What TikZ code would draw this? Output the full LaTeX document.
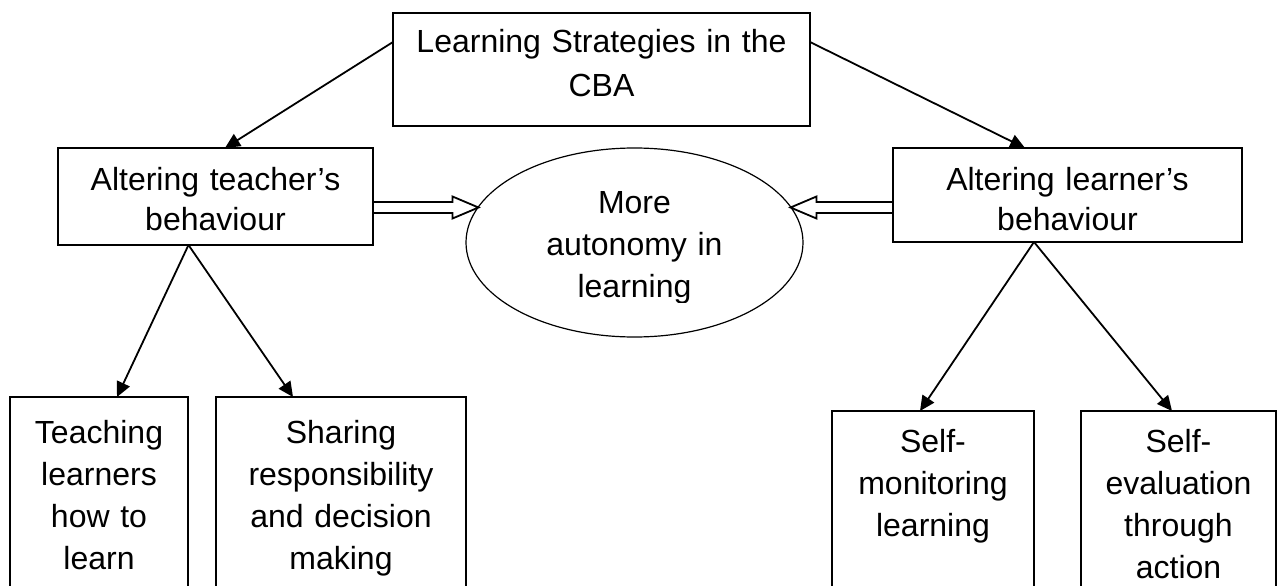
\documentclass[tikz,border=0pt]{standalone}
\usepackage{fontspec}
\setmainfont{Liberation Sans}
\usetikzlibrary{arrows.meta,calc,shapes.geometric}
\begin{document}
\begin{tikzpicture}[x=1pt,y=-1pt,
  txt/.style={font=\fontsize{32pt}{42pt}\selectfont},
  box/.style={txt, draw, line width=1.8pt, rectangle, inner sep=0pt, outer sep=0pt, anchor=north, align=center},
  oval/.style={draw, ellipse, line width=1.2pt, inner sep=0pt, outer sep=0pt},
  link/.style={line width=1.8pt, -{Triangle[length=15pt,width=14pt]}},
  hollow/.style={line width=1.8pt, line join=miter}
]
\useasboundingbox (0,0) rectangle (1283,586);
\clip (0,0) rectangle (1283,586);

% boxes
\node[box, text width=417pt, text height=40pt, text depth=73pt, font=\fontsize{32pt}{43.5pt}\selectfont] (top) at (601.5,13) {Learning Strategies in the\\CBA};
\node[box, text width=315pt, text height=42pt, text depth=55pt, font=\fontsize{32pt}{40pt}\selectfont] (lb) at (215.5,148) {Altering teacher’s\\behaviour};
\node[box, text width=349pt, text height=42pt, text depth=52pt, font=\fontsize{32pt}{40pt}\selectfont] (rb) at (1067.5,148) {Altering learner’s\\behaviour};
\node[box, text width=178pt, text height=46pt, text depth=164pt] (l1) at (99,397) {Teaching\\learners\\how to\\learn};
\node[box, text width=250pt, text height=46pt, text depth=164pt] (l2) at (341,397) {Sharing\\responsibility\\and decision\\making};
\node[box, text width=202pt, text height=41pt, text depth=150pt] (r1) at (933,411) {Self-\\monitoring\\learning};
\node[box, text width=195pt, text height=41pt, text depth=150pt] (r2) at (1178.5,411) {Self-\\evaluation\\through\\action};

% ellipse
\node[oval, minimum width=337pt, minimum height=189pt] (ell) at (634.5,242.5) {};
\begin{scope}
  \clip (460,150) rectangle (810,302);
  \node[txt, align=center, text width=240pt, inner sep=0pt, anchor=base] (elltext) at (634.5,213) {More\\autonomy in\\learning};
\end{scope}

% arrows
\draw[link] ($(top.north west)+(0,29)$) -- ($(lb.north)+(9.5,0)$);
\draw[link] ($(top.north east)+(0,29)$) -- ($(rb.north)+(-42.5,0)$);
\draw[link] ($(lb.south)+(-27,0)$) -- ($(l1.north)+(18,0)$);
\draw[link] ($(lb.south)+(-27,0)$) -- ($(l2.north)+(-48,0)$);
\draw[link] ($(rb.south)+(-33.5,0)$) -- ($(r1.north)+(-13,0)$);
\draw[link] ($(rb.south)+(-33.5,0)$) -- ($(r2.north)+(-6.5,0)$);

% hollow block arrows towards the ellipse
\coordinate (ltip) at (478.5,207.5);
\coordinate (lstart) at (lb.east |- ltip);
\coordinate (lhead) at ($(ltip)+(-26,0)$);
\draw[hollow] ($(lstart)+(0,-5.5)$) -- ($(lhead)+(0,-5.5)$) -- ($(lhead)+(0,-11)$) -- (ltip)
  -- ($(lhead)+(0,11)$) -- ($(lhead)+(0,5.5)$) -- ($(lstart)+(0,5.5)$);

\coordinate (rtip) at (790.5,207.5);
\coordinate (rstart) at (rb.west |- rtip);
\coordinate (rhead) at ($(rtip)+(26,0)$);
\draw[hollow] ($(rstart)+(0,-5.5)$) -- ($(rhead)+(0,-5.5)$) -- ($(rhead)+(0,-11)$) -- (rtip)
  -- ($(rhead)+(0,11)$) -- ($(rhead)+(0,5.5)$) -- ($(rstart)+(0,5.5)$);
\end{tikzpicture}
\end{document}
